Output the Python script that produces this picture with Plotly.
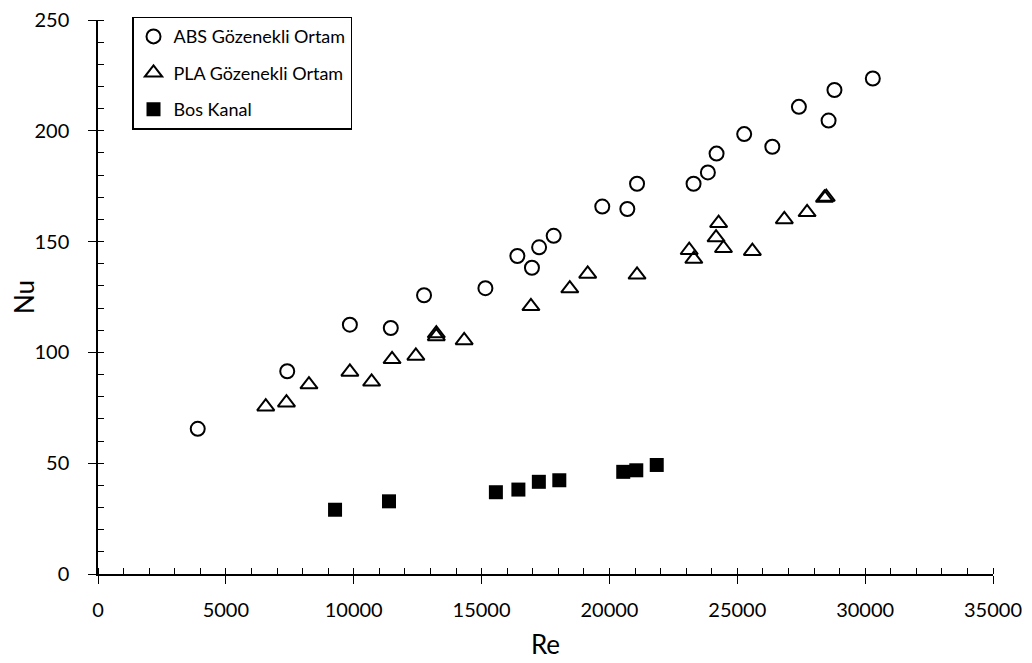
import plotly.graph_objects as go

abs_re = [3900, 7400, 9850, 11450, 12750, 15150, 16400, 16970, 17250, 17820, 19720, 20700,
          21080, 23290, 23850, 24190, 25270, 26370, 27410, 28570, 28800, 30300]
abs_nu = [65.5, 91.5, 112.5, 111, 125.8, 129, 143.5, 138.2, 147.4, 152.6, 165.8, 164.7,
          176.1, 176.1, 181.2, 189.7, 198.5, 192.8, 210.8, 204.6, 218.4, 223.6]

pla_re = [6560, 7370, 8250, 9850, 10700, 11500, 12430, 13230, 13230, 14320, 16930, 18450,
          19150, 21080, 23120, 23300, 24270, 24170, 24460, 25590, 26840, 27730, 28410, 28480]
pla_nu = [75.5, 77.3, 85.5, 91.2, 86.7, 96.9, 98.4, 107.2, 108.5, 105.4, 120.8, 128.8,
          135.4, 135.0, 146.1, 142.1, 158.3, 151.8, 147.0, 145.7, 160.0, 163.2, 169.7, 170.1]

bos_re = [9270, 11380, 15560, 16440, 17240, 18040, 20540, 21050, 21850]
bos_nu = [29.0, 32.8, 36.9, 38.1, 41.6, 42.3, 46.1, 46.8, 49.2]

x_ticks = [0, 5000, 10000, 15000, 20000, 25000, 30000, 35000]
y_ticks = [0, 50, 100, 150, 200, 250]

FONT = "Lato"

fig = go.Figure()
fig.add_trace(go.Scatter(
    x=abs_re, y=abs_nu, mode="markers", name="ABS Gözenekli Ortam", legendgroup="a",
    marker=dict(symbol="circle-open", size=14, color="black", line=dict(width=2, color="black"))))
fig.add_trace(go.Scatter(
    x=pla_re, y=pla_nu, mode="markers", name="PLA Gözenekli Ortam", legendgroup="b",
    marker=dict(symbol="triangle-up-open", size=15, color="black", line=dict(width=2, color="black"))))
fig.add_trace(go.Scatter(
    x=bos_re, y=bos_nu, mode="markers", name="Bos Kanal", legendgroup="c",
    marker=dict(symbol="square", size=14, color="black", line=dict(width=0))))
# invisible trace to carry the overlay axes (inner half of major ticks)
fig.add_trace(go.Scatter(x=[0], y=[0], xaxis="x2", yaxis="y2", mode="markers",
                         marker=dict(opacity=0), showlegend=False, hoverinfo="skip"))

fig.update_layout(
    width=1024, height=655,
    margin=dict(l=90, r=39, t=12, b=89, autoexpand=False),
    paper_bgcolor="white", plot_bgcolor="white",
    font=dict(family=FONT, color="black", size=20),
    showlegend=True,
    legend=dict(x=0.038, y=1.006, xanchor="left", yanchor="top",
                bordercolor="black", borderwidth=1.5, bgcolor="white",
                font=dict(family=FONT, size=18, color="black"),
                tracegroupgap=10, itemwidth=30),
    xaxis=dict(range=[0, 35000], tickvals=x_ticks, ticktext=[str(v) for v in x_ticks],
               showgrid=False, zeroline=False, showline=True, linecolor="black", linewidth=1.5,
               ticks="outside", ticklen=8, tickwidth=1.2, tickcolor="black",
               minor=dict(dtick=1000, ticks="inside", ticklen=6, tickwidth=1, tickcolor="black"),
               title=dict(text="Re", font=dict(size=26, family=FONT), standoff=16),
               tickfont=dict(size=20, family=FONT), automargin=False,
               ticklabelstandoff=9, ticklabeloverflow="allow"),
    yaxis=dict(range=[0, 250], tickvals=y_ticks, ticktext=[str(v) for v in y_ticks],
               showgrid=False, zeroline=False, showline=True, linecolor="black", linewidth=1.5,
               ticks="outside", ticklen=8, tickwidth=1.2, tickcolor="black",
               minor=dict(dtick=10, ticks="inside", ticklen=6, tickwidth=1, tickcolor="black"),
               title=dict(text="Nu", font=dict(size=26, family=FONT), standoff=8),
               tickfont=dict(size=20, family=FONT), automargin=False,
               ticklabelstandoff=15, ticklabeloverflow="allow"),
    xaxis2=dict(range=[0, 35000], overlaying="x", anchor="y", side="bottom",
                tickvals=x_ticks, showticklabels=False, showgrid=False, zeroline=False,
                showline=False, ticks="inside", ticklen=6, tickwidth=1.2, tickcolor="black"),
    yaxis2=dict(range=[0, 250], overlaying="y", anchor="x", side="left",
                tickvals=y_ticks, showticklabels=False, showgrid=False, zeroline=False,
                showline=False, ticks="inside", ticklen=6, tickwidth=1.2, tickcolor="black"),
)

fig.write_html("out.html")
